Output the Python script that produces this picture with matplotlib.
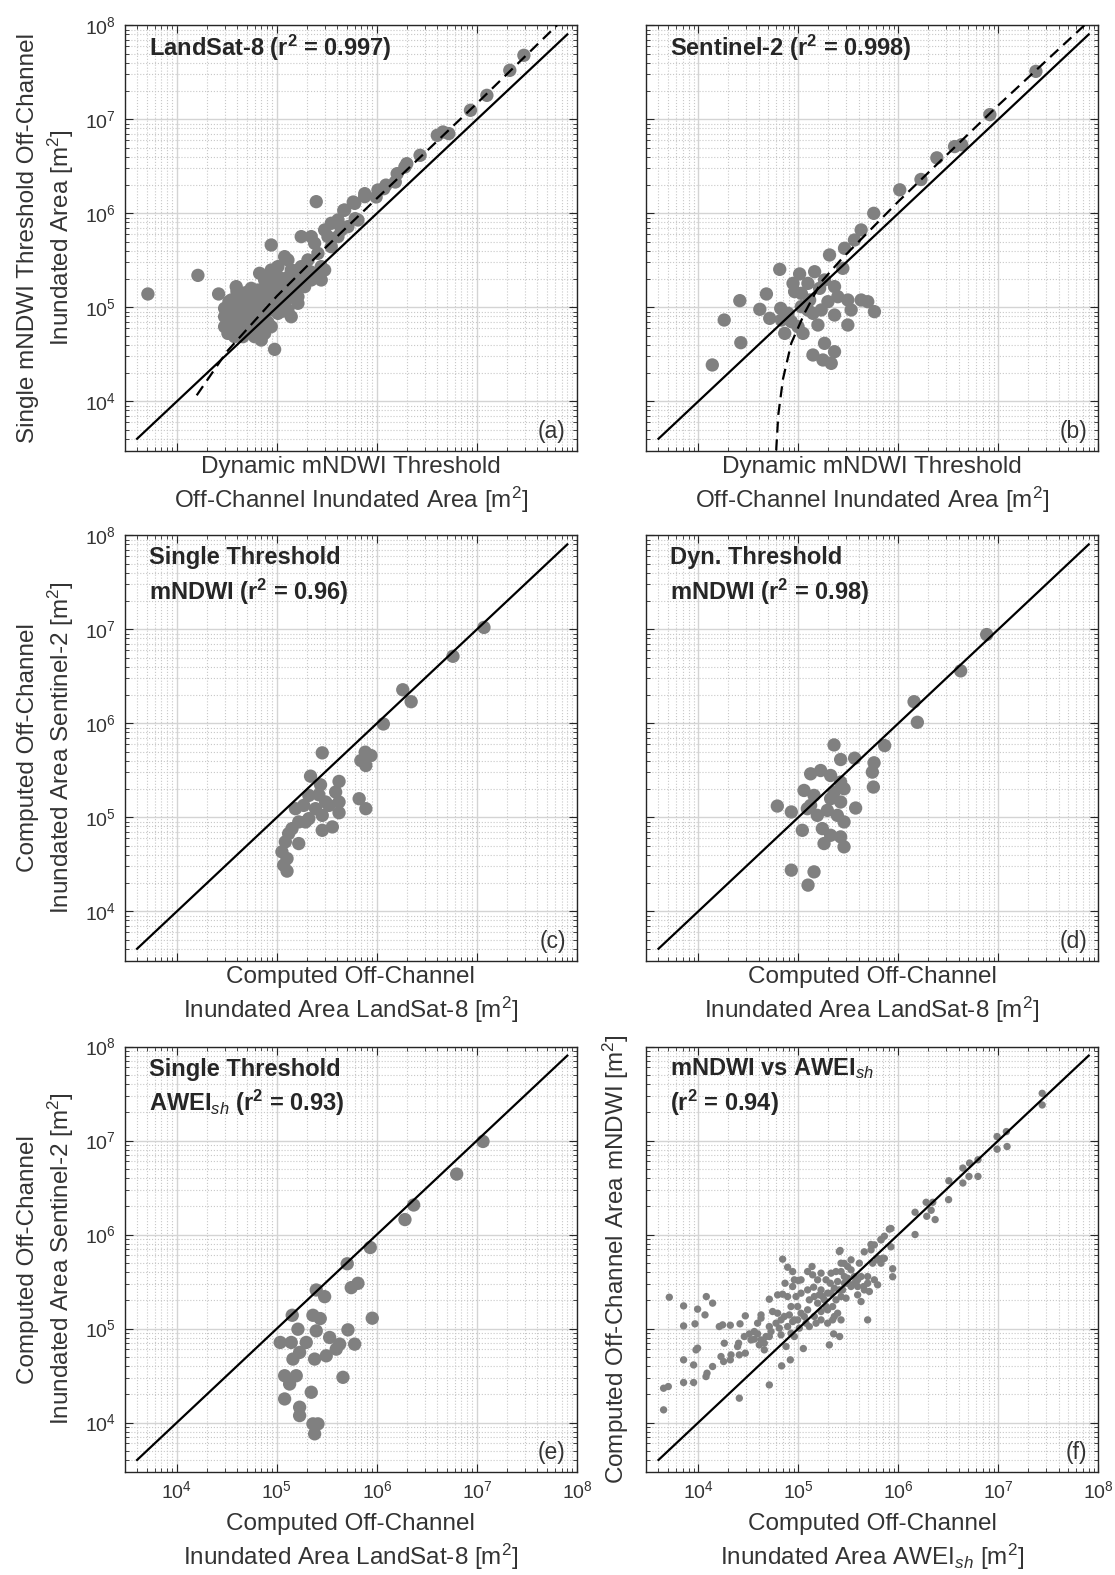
import numpy as np
import matplotlib
matplotlib.use("Agg")
import matplotlib.pyplot as plt
from matplotlib.ticker import LogLocator, NullFormatter

plt.rcParams['font.family'] = ['Liberation Sans', 'DejaVu Sans']
plt.rcParams['mathtext.fontset'] = 'custom'
plt.rcParams['mathtext.rm'] = 'Liberation Sans'
plt.rcParams['mathtext.it'] = 'Liberation Sans:italic'
plt.rcParams['mathtext.bf'] = 'Liberation Sans:bold'

# values, stored as log10 of area [m^2]
# (a) single vs dynamic mNDWI threshold, LandSat-8
A_LX = [3.71, 4.21, 4.417, 4.943, 4.977, 5.393,
        4.477, 4.51, 4.477, 4.543, 4.593, 4.66, 4.743, 4.827, 4.877, 4.91, 4.743, 4.81,
        4.677, 4.577, 4.627, 4.71, 4.777, 4.843, 4.877, 4.943, 5.01, 5.043, 5.077, 5.143,
        5.11, 5.143, 5.21, 5.077, 5.11, 5.143, 5.21, 5.243, 5.277, 5.343, 5.377, 5.443,
        5.477, 5.443, 5.343, 5.243, 5.377, 5.477, 5.543, 5.61, 5.677, 5.777, 5.877, 6.01,
        5.81, 5.71, 5.21, 5.277, 5.01, 4.943, 4.91, 4.777, 4.743, 4.977, 5.027, 4.843,
        4.66, 4.793, 4.543, 4.61, 4.477, 4.51, 4.577, 4.943, 4.877, 5.01, 4.81, 4.643,
        4.943, 5.043, 5.177, 5.31, 5.41, 5.543, 5.61, 5.51, 5.643,
        4.55, 4.61, 4.66, 4.71, 4.76, 4.79, 4.86, 4.9, 4.96, 5.02, 5.06, 5.09, 5.16,
        4.69, 4.74, 4.8, 4.86, 4.91, 4.96, 5.0, 5.06, 5.12, 4.6, 4.56, 4.64, 4.7,
        4.65, 4.6, 4.52, 4.55, 4.73, 4.83, 4.99, 5.18, 5.25, 5.33,
        7.469, 7.328, 7.099, 6.935, 6.603, 6.66, 6.718, 6.431, 6.298, 6.279, 6.202, 6.183,
        6.069, 5.992, 5.878, 5.763, 5.668, 5.782, 6.09]
A_LY = [5.142, 5.34, 5.142, 5.663, 4.553, 6.124,
        4.989, 4.883, 4.794, 4.794, 5.22, 5.149, 5.202, 5.362, 5.291, 5.184, 5.078, 5.007,
        4.972, 4.936, 4.848, 4.759, 4.688, 4.652, 4.723, 4.794, 4.936, 5.043, 5.113, 5.22,
        4.972, 4.9, 5.043, 5.539, 5.504, 5.397, 5.397, 5.433, 5.326, 5.291, 5.362, 5.433,
        5.397, 5.291, 5.752, 5.752, 5.681, 5.823, 5.894, 5.929, 6.035, 6.106, 6.177, 6.248,
        5.929, 5.858, 5.113, 5.22, 5.433, 5.397, 5.291, 4.901, 4.83, 5.078, 5.22, 4.794,
        4.688, 4.759, 5.078, 5.078, 4.901, 4.723, 4.688, 4.972, 5.113, 5.326, 5.184, 5.043,
        5.255, 5.149, 5.291, 5.504, 5.574, 5.645, 5.752, 5.752, 5.823,
        5.01, 4.94, 5.02, 5.06, 4.98, 5.12, 5.16, 5.09, 5.17, 5.21, 5.26, 5.31, 5.36,
        4.89, 4.74, 4.86, 4.9, 4.84, 5.01, 5.0, 4.96, 5.1, 4.84, 4.74, 4.8, 5.16,
        5.1, 5.17, 5.06, 4.9, 4.95, 4.99, 5.12, 5.19, 5.24, 5.38,
        7.681, 7.521, 7.255, 7.096, 6.83, 6.865, 6.848, 6.617, 6.528, 6.493, 6.422, 6.333,
        6.262, 6.174, 6.209, 6.12, 6.032, 5.943, 6.3]
A_FIT_LX = [4.198, 4.5, 5.0, 5.5, 6.0, 7.0, 7.8]
A_FIT_LY = [4.064, 4.53, 5.12, 5.65, 6.16, 7.17, 8.0]

# (b) single vs dynamic mNDWI threshold, Sentinel-2
B_LX = [4.14, 4.259, 4.425, 4.415, 4.615, 4.681, 4.714, 4.824, 4.814, 4.864, 4.947, 4.963,
        5.013, 5.03, 5.096, 4.93, 4.997, 5.047, 5.146, 5.163, 5.196, 5.113, 5.213, 5.262,
        5.312, 5.362, 5.395, 5.296, 5.362, 5.445, 5.462, 5.495, 5.528, 5.561, 5.628, 5.495,
        5.628, 5.694, 5.761, 5.754, 5.146, 5.262, 5.362, 5.246, 5.329, 4.897, 5.03, 5.096,
        5.229, 4.831,
        7.375, 6.915, 6.633, 6.562, 6.385, 6.226, 6.014]
B_LY = [4.387, 4.865, 4.624, 5.071, 4.979, 5.142, 4.883, 4.989, 5.404, 4.723, 5.255, 5.167,
        5.355, 5.007, 4.972, 4.848, 4.794, 4.723, 4.936, 5.379, 4.812, 5.078, 5.202, 5.291,
        5.557, 5.22, 5.113, 5.06, 4.918, 5.415, 5.628, 5.078, 4.972, 5.716, 5.078, 4.812,
        5.823, 5.06, 4.954, 6.0, 4.493, 4.617, 4.528, 4.44, 4.404, 4.936, 5.149, 5.255,
        4.972, 4.865,
        7.51, 7.05, 6.73, 6.71, 6.59, 6.36, 6.25]
B_FIT_LX = [4.77, 4.78, 4.80, 4.847, 4.93, 5.063, 5.229, 5.429, 6.0, 7.0, 7.86]
B_FIT_LY = [3.1, 3.505, 3.86, 4.24, 4.62, 4.94, 5.27, 5.51, 6.126, 7.15, 8.0]

# (c) Sentinel-2 vs LandSat-8, single threshold mNDWI
C_LX = [7.07, 6.76, 6.258, 6.342, 6.064, 5.453, 5.883, 5.94, 5.839, 5.889, 5.336, 5.621,
        5.436, 5.419, 5.822, 5.889, 5.587, 5.621, 5.52, 5.621, 5.319, 5.268, 5.185, 5.386,
        5.453, 5.319, 5.218, 5.151, 5.117, 5.218, 5.084, 5.05, 5.101, 5.067, 5.101, 5.554,
        5.453, 5.285, 5.487]
C_LY = [7.02, 6.713, 6.357, 6.23, 5.993, 5.686, 5.693, 5.657, 5.604, 5.551, 5.438, 5.382,
        5.346, 5.24, 5.198, 5.092, 5.269, 5.163, 5.127, 5.049, 5.233, 5.127, 5.092, 5.092,
        5.021, 4.986, 4.951, 4.88, 4.827, 4.721, 4.739, 4.633, 4.562, 4.491, 4.428, 4.898,
        4.862, 4.951, 5.163]

# (d) Sentinel-2 vs LandSat-8, dynamic threshold mNDWI
D_LX = [6.883, 6.623, 6.157, 6.19, 5.357, 5.863, 5.423, 5.563, 5.757, 5.74, 5.75, 5.123,
        5.223, 5.323, 5.423, 5.457, 5.057, 5.157, 5.323, 5.423, 5.573, 4.79, 4.93, 5.09,
        5.19, 5.29, 5.39, 5.457, 5.04, 5.24, 5.323, 5.257, 5.423, 5.457, 4.93, 5.157,
        5.097, 5.123, 5.357]
D_LY = [6.944, 6.558, 6.23, 6.011, 5.77, 5.763, 5.615, 5.629, 5.58, 5.481, 5.322, 5.463,
        5.498, 5.445, 5.375, 5.304, 5.286, 5.233, 5.198, 5.163, 5.099, 5.12, 5.057, 5.092,
        5.021, 5.074, 5.021, 4.951, 4.862, 4.88, 4.809, 4.721, 4.792, 4.686, 4.438, 4.42,
        4.279, 5.127, 5.269]

# (e) Sentinel-2 vs LandSat-8, single threshold AWEIsh
E_LX = [7.06, 6.797, 6.367, 6.28, 5.933, 5.703, 5.743, 5.81, 5.393, 5.477, 5.953, 5.153,
        5.36, 5.433, 5.21, 5.71, 5.393, 5.527, 5.033, 5.143, 5.293, 5.627, 5.777, 5.227,
        5.377, 5.493, 5.593, 5.16, 5.077, 5.193, 5.127, 5.66, 5.343, 5.077, 5.227, 5.227,
        5.36, 5.41, 5.377]
E_LY = [6.99, 6.643, 6.314, 6.159, 5.862, 5.689, 5.435, 5.481, 5.41, 5.339, 5.11, 5.141,
        5.141, 5.106, 4.993, 4.986, 4.975, 4.905, 4.852, 4.852, 4.852, 4.834, 4.834, 4.746,
        4.675, 4.71, 4.781, 4.675, 4.498, 4.498, 4.41, 4.481, 4.322, 4.251, 4.163, 4.074,
        3.986, 3.986, 3.88]

# (f) mNDWI vs AWEIsh
F_LX = [3.653, 3.653, 3.7, 3.71, 3.853, 3.853, 3.853, 3.853, 3.953, 3.953, 3.977, 3.993,
        3.967, 3.993, 4.067, 4.08, 4.143, 4.077, 4.087, 4.143, 4.227, 4.26, 4.21, 4.243,
        4.32, 4.417, 4.47, 4.32, 4.403, 4.41, 4.47, 4.41, 4.46, 4.51, 4.56, 4.593,
        4.627, 4.66, 4.66, 4.71, 4.71, 4.727, 4.71, 4.71, 4.627, 4.627, 4.793, 4.843,
        4.843, 4.893, 4.943, 4.867, 4.96, 5.0, 4.977, 4.793, 4.827, 4.86, 4.827, 4.893,
        4.927, 4.877, 4.833, 4.92, 4.993, 4.993, 5.027, 5.05, 5.077, 5.093, 5.11, 5.093,
        5.137, 5.143, 5.153, 5.16, 5.16, 5.193, 5.227, 5.227, 5.243, 5.277, 5.293, 5.31,
        5.32, 5.353, 5.36, 5.377, 5.393, 5.41, 5.413, 5.427, 5.443, 5.46, 5.477, 5.493,
        5.527, 5.527, 5.56, 5.593, 5.627, 5.653, 5.693, 5.693, 5.71, 5.727, 5.76, 5.793,
        5.827, 5.843, 5.91, 5.377, 5.393, 5.427, 5.093, 5.027, 4.927, 4.96, 5.193, 5.277,
        5.227,
        4.743, 4.777, 4.81, 4.91, 4.943, 5.01, 5.06, 5.11, 5.177, 5.21, 5.26, 5.293,
        5.327, 5.343, 5.36, 5.41, 5.427, 5.46, 5.493, 5.56, 5.593, 5.627, 5.66, 5.693,
        5.76, 5.793, 5.827, 5.743, 5.593, 5.293, 5.343, 4.96, 4.56, 4.527, 4.61, 4.393,
        4.677, 4.593, 4.253, 4.327, 4.893, 4.943, 5.027, 5.227, 5.327, 5.493, 5.427, 5.61,
        5.527,
        7.438, 7.438, 7.08, 6.987, 6.987, 7.087, 6.796, 6.712, 6.645, 6.706, 6.645, 6.796,
        6.505, 6.502, 6.278, 6.344, 6.167, 6.284, 6.328, 6.368, 6.167, 5.926, 5.86, 5.826,
        5.726, 5.659, 5.926, 5.793, 5.86, 5.943, 5.943, 5.458, 5.418]
F_LY = [4.135, 4.365, 4.383, 5.333, 4.426, 4.667, 5.028, 5.241, 4.426, 4.613, 4.773, 4.791,
        5.05, 5.206, 5.145, 5.34, 5.27, 4.489, 4.525, 4.596, 4.702, 4.844, 5.021, 5.039,
        5.035, 5.05, 5.135, 4.667, 4.844, 4.72, 4.738, 4.259, 4.915, 4.943, 4.887, 4.943,
        4.879, 4.844, 4.773, 4.915, 5.021, 4.968, 4.4, 5.312, 5.145, 5.11, 5.358, 5.365,
        5.738, 5.652, 5.606, 5.482, 5.518, 5.511, 5.34, 5.163, 5.092, 5.128, 4.933, 5.021,
        4.95, 4.809, 4.603, 4.667, 5.092, 5.234, 5.163, 4.787, 5.057, 5.199, 5.305, 5.606,
        5.66, 5.571, 5.44, 5.34, 5.128, 5.27, 5.181, 5.092, 5.34, 5.234, 5.376, 4.826,
        5.482, 4.943, 5.128, 5.305, 5.5, 5.819, 4.915, 5.606, 5.411, 5.553, 5.323, 5.482,
        5.447, 5.624, 5.553, 5.447, 5.287, 5.447, 5.092, 5.553, 5.394, 5.837, 5.89, 5.465,
        5.943, 5.748, 6.057, 5.606, 5.163, 5.092, 5.411, 5.376, 5.234, 5.092, 5.518, 5.518,
        5.411,
        5.181, 5.057, 5.004, 5.145, 5.074, 5.004, 5.128, 5.021, 5.057, 5.358, 5.305, 5.199,
        5.376, 5.234, 5.429, 5.411, 5.34, 5.482, 5.535, 5.482, 5.518, 5.553, 5.411, 5.482,
        5.518, 5.731, 5.695, 5.695, 5.358, 5.057, 5.092, 4.915, 4.968, 4.879, 4.826, 4.809,
        4.915, 5.057, 4.649, 4.72, 5.34, 5.447, 5.518, 5.589, 5.589, 5.66, 5.695, 5.695,
        5.731,
        7.502, 7.378, 7.095, 7.042, 6.908, 6.936, 6.795, 6.76, 6.707, 6.618, 6.548, 6.618,
        6.572, 6.371, 6.343, 6.343, 6.237, 6.194, 6.258, 6.159, 6.0, 6.064, 5.982, 5.947,
        5.894, 5.816, 5.869, 5.746, 5.746, 5.636, 5.551, 5.693, 5.83]

ONE_TO_ONE = [4e3, 8e7]
AX_LIM = [3e3, 1e8]

TXT = '#333333'
DOT = '#808080'

fig = plt.figure(figsize=(11.15, 15.75), dpi=100)

col_x = [124.6 / 1115, 646 / 1115]
row_b = [1 - 450.5 / 1575, 1 - 960.5 / 1575, 1 - 1471.7 / 1575]
aw = 452.4 / 1115
ah = 425.2 / 1575


def make_ax(col, row):
    ax = fig.add_axes([col_x[col], row_b[row], aw, ah])
    ax.set_xscale('log')
    ax.set_yscale('log')
    ax.set_xlim(AX_LIM)
    ax.set_ylim(AX_LIM)
    for axis in (ax.xaxis, ax.yaxis):
        axis.set_major_locator(LogLocator(base=10, numticks=12))
        axis.set_minor_locator(LogLocator(base=10, subs=np.arange(2, 10), numticks=12))
        axis.set_minor_formatter(NullFormatter())
    ax.grid(True, which='major', color='#d4d4d4', lw=1.0, ls='-')
    ax.grid(True, which='minor', color='#c8c8c8', lw=0.8, ls=':')
    ax.set_axisbelow(True)
    ax.tick_params(which='both', direction='in', top=True, right=True,
                   colors='#262626', labelcolor=TXT, labelsize=14, pad=6)
    ax.tick_params(which='major', length=6, width=0.8)
    ax.tick_params(which='minor', length=3, width=0.6)
    for sp in ax.spines.values():
        sp.set_color('#262626')
        sp.set_linewidth(1.0)
    if row < 2:
        ax.tick_params(labelbottom=False)
    if col == 1:
        ax.tick_params(labelleft=False)
    return ax


def dots(ax, lx, ly, s=92):
    ax.scatter(10 ** np.array(lx), 10 ** np.array(ly), s=s, color=DOT,
               edgecolors='none', zorder=2)
    ax.plot(ONE_TO_ONE, ONE_TO_ONE, color='black', lw=1.6, zorder=3)


def fit(ax, lx, ly):
    ax.plot(10 ** np.array(lx), 10 ** np.array(ly), color='black', lw=1.6,
            ls=(0, (5, 3)), zorder=3)


def title(ax, lines):
    for i, t in enumerate(lines):
        ax.text(0.054, 0.947 - i * 0.079, t, transform=ax.transAxes, ha='left',
                va='center', fontsize=17, fontweight='bold', color='#262626', zorder=5)


def letter(ax, t):
    ax.text(0.975, 0.045, t, transform=ax.transAxes, ha='right', va='center',
            fontsize=16.5, color=TXT, zorder=5)


def xlab(ax, t, row):
    ax.set_xlabel(t, fontsize=17.5, color=TXT, linespacing=1.3)
    ax.xaxis.set_label_coords(0.5, -0.013 if row < 2 else -0.097)


def ylab(ax, t, x=-0.108):
    ax.set_ylabel(t, fontsize=17.5, color=TXT, linespacing=1.3)
    ax.yaxis.set_label_coords(x, 0.5)


m2 = r'[m$^2$]'

ax = make_ax(0, 0)
dots(ax, A_LX, A_LY)
fit(ax, A_FIT_LX, A_FIT_LY)
title(ax, [r'LandSat-8 (r$^{\mathbf{2}}$ = 0.997)'])
letter(ax, '(a)')
xlab(ax, 'Dynamic mNDWI Threshold\nOff-Channel Inundated Area ' + m2, 0)
ylab(ax, 'Single mNDWI Threshold Off-Channel\nInundated Area ' + m2)

ax = make_ax(1, 0)
dots(ax, B_LX, B_LY)
fit(ax, B_FIT_LX, B_FIT_LY)
title(ax, [r'Sentinel-2 (r$^{\mathbf{2}}$ = 0.998)'])
letter(ax, '(b)')
xlab(ax, 'Dynamic mNDWI Threshold\nOff-Channel Inundated Area ' + m2, 0)

ax = make_ax(0, 1)
dots(ax, C_LX, C_LY)
title(ax, ['Single Threshold', r'mNDWI (r$^{\mathbf{2}}$ = 0.96)'])
letter(ax, '(c)')
xlab(ax, 'Computed Off-Channel\nInundated Area LandSat-8 ' + m2, 1)
ylab(ax, 'Computed Off-Channel\nInundated Area Sentinel-2 ' + m2)

ax = make_ax(1, 1)
dots(ax, D_LX, D_LY)
title(ax, ['Dyn. Threshold', r'mNDWI (r$^{\mathbf{2}}$ = 0.98)'])
letter(ax, '(d)')
xlab(ax, 'Computed Off-Channel\nInundated Area LandSat-8 ' + m2, 1)

ax = make_ax(0, 2)
dots(ax, E_LX, E_LY)
title(ax, ['Single Threshold', r'AWEI$_{\mathit{sh}}$ (r$^{\mathbf{2}}$ = 0.93)'])
letter(ax, '(e)')
xlab(ax, 'Computed Off-Channel\nInundated Area LandSat-8 ' + m2, 2)
ylab(ax, 'Computed Off-Channel\nInundated Area Sentinel-2 ' + m2)

ax = make_ax(1, 2)
dots(ax, F_LX, F_LY, s=28)
title(ax, [r'mNDWI vs AWEI$_{\mathit{sh}}$', r'(r$^{\mathbf{2}}$ = 0.94)'])
letter(ax, '(f)')
xlab(ax, 'Computed Off-Channel\nInundated Area AWEI$_{\\mathit{sh}}$ ' + m2, 2)
ylab(ax, 'Computed Off-Channel Area mNDWI ' + m2, x=-0.033)

fig.savefig('out.png', dpi=100)
